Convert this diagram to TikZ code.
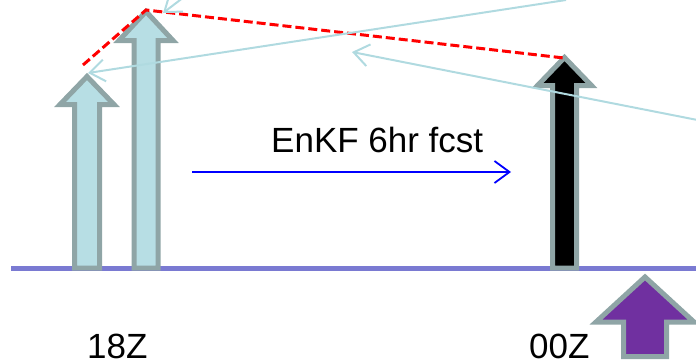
\documentclass[tikz,border=0pt]{standalone}
\usepackage{fontspec}
\setmainfont{Liberation Sans}
\usetikzlibrary{arrows.meta}
\definecolor{cyanfill}{RGB}{183,222,228}
\definecolor{cyanline}{RGB}{176,218,224}
\definecolor{grayedge}{RGB}{143,165,166}
\definecolor{purplefill}{RGB}{112,48,160}
\definecolor{timelinecol}{RGB}{122,122,210}
\tikzset{
  blockarrow/.style={draw=grayedge, line width=5pt, line join=miter},
  obsline/.style={draw=cyanline, line width=2pt, -{Straight Barb[length=15pt,width=22pt,line width=2pt]}},
  fcstline/.style={draw=blue, line width=1.8pt, -{Straight Barb[length=15pt,width=22pt,line width=1.8pt]}},
  reddash/.style={draw=red, line width=3pt, dash pattern=on 9pt off 4pt},
  lbl/.style={font=\fontsize{35}{40}\selectfont, inner sep=0pt, text depth=0pt, anchor=base west},
}
\newcommand{\blockarr}[7]{%
  \path[blockarrow, fill=#7] ({#1-#2},#6) -- ({#1-#2},#5) -- ({#1-#3},#5) -- (#1,#4)
    -- ({#1+#3},#5) -- ({#1+#2},#5) -- ({#1+#2},#6) -- cycle;}
\begin{document}
\begin{tikzpicture}[x=1pt,y=-1pt]
\useasboundingbox (0,0) rectangle (696,364);
\clip (0,0) rectangle (696,364);
% base time line
\coordinate (lineL) at (11,268.5);
\coordinate (lineR) at (700,268.5);
\draw[draw=timelinecol, line width=5pt] (lineL) -- (lineR);
% block arrows
\blockarr{87}{12.5}{27}{76.5}{104.5}{268}{cyanfill}
\blockarr{146}{12}{27}{11.5}{40.5}{268}{cyanfill}
\blockarr{564.5}{12}{27}{57.5}{85.5}{268}{black}
\blockarr{645}{21.5}{49}{277}{322}{356.5}{purplefill}
% coordinates
\coordinate (tipA) at (88,73);
\coordinate (tipB) at (163,13);
\coordinate (tipC) at (352,52);
\coordinate (redA) at (83,65);
\coordinate (redB) at (146,10);
\coordinate (redC) at (564,58);
\coordinate (srcA) at (566,0);
\coordinate (srcB) at (184,-3);
\coordinate (srcC) at (700,120.5);
\coordinate (fL) at (192,172);
\coordinate (fR) at (511,172);
% red dashed
\draw[reddash] (redA) -- (redB) -- (redC);
% observation lines
\draw[obsline] (srcA) -- (tipA);
\draw[obsline] (srcB) -- (tipB);
\draw[obsline] (srcC) -- (tipC);
% forecast arrow
\draw[fcstline] (fL) -- (fR);
% labels
\node[lbl] (enkf) at (271,152) {EnKF 6hr fcst};
\node[lbl] (t18) at (87,358) {18Z};
\node[lbl] (t00) at (529,358) {00Z};
\end{tikzpicture}
\end{document}
